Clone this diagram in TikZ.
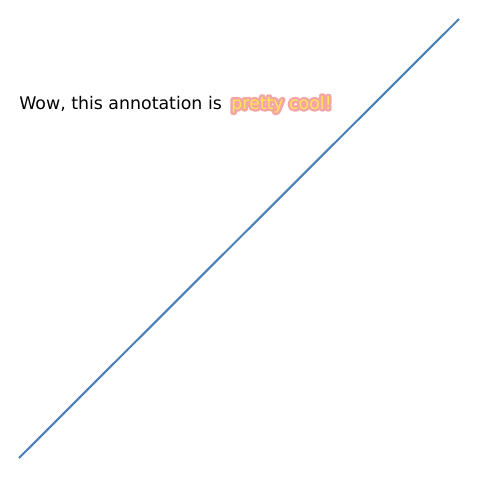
\documentclass[tikz,border=0pt]{standalone}
\usepackage{fontspec}
\setmainfont{DejaVu Sans}
\definecolor{lineblue}{RGB}{74,128,182}
\definecolor{halo}{RGB}{245,165,165}
\definecolor{txtyellow}{RGB}{255,228,90}
\tikzset{
  plotline/.style={draw=lineblue, line width=1.5pt},
  lbl/.style={anchor=base west, inner sep=0pt, font=\fontsize{12.5pt}{15pt}\selectfont},
}
\newcommand{\haloword}[1]{\rlap{\color{halo}\special{pdf:literal direct 1 Tr 3.6 w 1 J 1 j}#1\special{pdf:literal direct 0 Tr 0.4 w}}{\color{txtyellow}#1}}
\begin{document}
\begin{tikzpicture}[x=0.72pt,y=-0.72pt]
\useasboundingbox (0,0) rectangle (480,480);
\coordinate (p0) at (19,458);
\coordinate (p1) at (459,19);
\draw[plotline] (p0) -- (p1);
\node[lbl, text=black] (t1) at (19,109) {Wow, this annotation is};
\node[lbl] (t2) at (231,109) {\haloword{pretty cool!}};
\end{tikzpicture}
\end{document}
